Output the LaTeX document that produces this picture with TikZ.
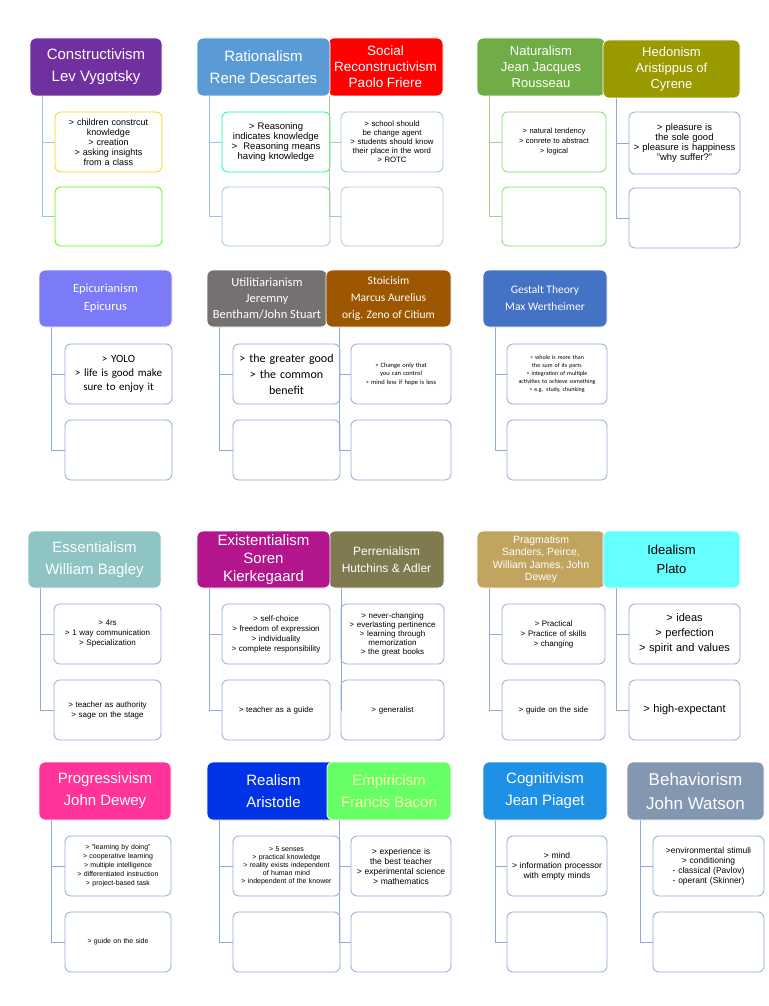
\documentclass[tikz,border=0pt]{standalone}
\usepackage{fontspec}
\setmainfont{Liberation Sans}
\newfontfamily\carl{Carlito}
\begin{document}
\begin{tikzpicture}[x=1pt,y=-1pt,
  hdrst/.style={rounded corners=6pt,draw=white,line width=0.8pt,text=white,align=center,inner sep=1pt},
  bxst/.style={rounded corners=6pt,draw=#1,line width=0.8pt,fill=white,align=center,inner sep=1pt},
  lnst/.style={draw=#1,line width=0.9pt}]
\newcommand\Hdr[8]{\pgfmathsetmacro\ww{#4-#2}\pgfmathsetmacro\hh{#5-#3}%
  \node[hdrst,fill=#6,minimum width=\ww pt,minimum height=\hh pt,font=#8] (#1) at ({(#2+#4)/2},{(#3+#5)/2}) {#7};}
\newcommand\Bx[8]{\pgfmathsetmacro\ww{#4-#2}\pgfmathsetmacro\hh{#5-#3}%
  \node[bxst=#6,minimum width=\ww pt,minimum height=\hh pt,text width=\ww pt-6pt,font={#8\hyphenpenalty=10000\exhyphenpenalty=10000}] (#1) at ({(#2+#4)/2},{(#3+#5)/2}) {#7};}
\newcommand\Cn[6]{\coordinate (#1t) at (#2,#3); \draw[lnst=#6] (#1t) |- (#4.west); \draw[lnst=#6] (#1t) |- (#5.west);}
\newcommand\fs[2]{\fontsize{#1}{#2}\selectfont}
\definecolor{lb}{HTML}{9DC3E6}
\definecolor{ln}{HTML}{8FAADC}
\definecolor{lg}{HTML}{A9D18E}
\definecolor{c1}{HTML}{7030A0}\definecolor{c2}{HTML}{5B9BD5}\definecolor{c3}{HTML}{FF0000}
\definecolor{c4}{HTML}{70AD47}\definecolor{c5}{HTML}{999900}\definecolor{c6}{HTML}{7B7BF7}
\definecolor{c7}{HTML}{767171}\definecolor{c8}{HTML}{9C5700}\definecolor{c9}{HTML}{4472C4}
\definecolor{c10}{HTML}{8EC4C4}\definecolor{c11}{HTML}{B3168C}\definecolor{c12}{HTML}{7F7A50}
\definecolor{c13}{HTML}{C1A45E}\definecolor{c14}{HTML}{66FFFF}\definecolor{c15}{HTML}{FF3399}
\definecolor{c16}{HTML}{0033E6}\definecolor{c17}{HTML}{66FF66}\definecolor{c18}{HTML}{1E90E6}
\definecolor{c19}{HTML}{8497B0}
\useasboundingbox (0,0) rectangle (768,1006);
\fill[white] (0,0) rectangle (768,1006);
% ---------- row1
\Bx{b1a}{55}{112}{162}{172}{yellow!70!orange}{> children constrcut knowledge\\> creation\\> asking insights from a class}{\fs{9}{10}}
\Bx{b1b}{55}{187}{162}{246}{green!60!lime}{}{}
\Bx{b2a}{222}{112}{330}{172}{green!40!cyan}{> Reasoning indicates knowledge\\>\ \ Reasoning means having knowledge}{\fs{9.5}{10}}
\Bx{b2b}{222}{187}{330}{246}{lb}{}{}
\Bx{b3a}{341}{112}{443}{172}{lb}{> school should be change agent\\> students should know their place in the word\\> ROTC}{\fs{7.8}{9}}
\Bx{b3b}{341}{187}{443}{246}{cyan!30!teal!40}{}{}
\Bx{b4a}{502}{112}{606}{172}{lg!80!green}{> natural tendency\\> conrete to abstract\\> logical}{\fs{7.5}{10}}
\Bx{b4b}{502}{187}{606}{246}{lg!80!green}{}{}
\Bx{b5a}{629}{112}{740}{174}{ln}{> pleasure is the sole good\\> pleasure is happiness\\"why suffer?"}{\fs{9.5}{10}}
\Bx{b5b}{629}{188}{740}{248}{ln}{}{}
\Cn{h1}{42}{96}{b1a}{b1b}{lb}
\Cn{h2}{209}{96}{b2a}{b2b}{lb}
\Cn{h3}{329}{96}{b3a}{b3b}{lg}
\Cn{h4}{489}{96}{b4a}{b4b}{lg}
\Cn{h5}{616}{98}{b5a}{b5b}{ln}
\Hdr{h3}{328}{38}{443}{96}{c3}{Social\\Reconstructivism\\Paolo Friere}{\fs{13.5}{16}}
\Hdr{h1}{30}{38}{162}{96}{c1}{Constructivism\\Lev Vygotsky}{\fs{15}{22}}
\Hdr{h2}{197}{38}{330}{96}{c2}{Rationalism\\Rene Descartes}{\fs{15}{22}}
\Hdr{h4}{477}{38}{605}{96}{c4}{Naturalism\\Jean Jacques\\Rousseau}{\fs{13}{16}}
\Hdr{h5}{603}{40}{740}{98}{c5}{Hedonism\\Aristippus of\\Cyrene}{\fs{13}{16}}
% ---------- row2
\Bx{b6a}{65}{344}{172}{404}{ln}{> YOLO\\> life is good make sure to enjoy it}{\carl\fs{11}{14}}
\Bx{b6b}{65}{420}{172}{480}{ln}{}{}
\Bx{b7a}{233}{344}{340}{404}{ln}{> the greater good\\> the common benefit}{\carl\fs{12}{16}}
\Bx{b7b}{233}{420}{340}{480}{ln}{}{}
\Bx{b8a}{351}{344}{451}{404}{ln}{> Change only that you can control\\> mind less if hope is less}{\carl\fs{6.5}{8.5}}
\Bx{b8b}{351}{420}{451}{480}{ln}{}{}
\Bx{b9a}{507}{344}{607}{404}{ln}{> whole is more than the sum of its parts\\> integration of multiple activities to achieve something\\> e.g. study, chunking}{\carl\fs{6}{8}}
\Bx{b9b}{507}{420}{607}{480}{ln}{}{}
\Cn{h6}{51}{327}{b6a}{b6b}{ln}
\Cn{h7}{219}{327}{b7a}{b7b}{ln}
\Cn{h8}{339}{327}{b8a}{b8b}{ln}
\Cn{h9}{495}{327}{b9a}{b9b}{ln}
\Hdr{h6}{39}{270}{172}{327}{c6}{Epicurianism\\Epicurus}{\carl\fs{12.5}{18}}
\Hdr{h7}{207}{270}{327}{327}{c7}{Utilitiarianism\\Jeremny\\Bentham/John Stuart}{\carl\fs{12.5}{16}}
\Hdr{h8}{326}{270}{451}{327}{c8}{Stoicisim\\Marcus Aurelius\\orig. Zeno of Citium}{\carl\fs{11.5}{17}}
\Hdr{h9}{483}{270}{607}{327}{c9}{Gestalt Theory\\Max Wertheimer}{\carl\fs{11.5}{17}}
% ---------- row3
\Bx{b10a}{54}{604}{161}{664}{ln}{> 4rs\\> 1 way communication\\> Specialization}{\fs{8}{10}}
\Bx{b10b}{54}{680}{161}{740}{ln}{> teacher as authority\\> sage on the stage}{\fs{8}{10}}
\Bx{b11a}{222}{604}{330}{664}{ln}{> self-choice\\> freedom of expression\\> individuality\\> complete responsibility}{\fs{8}{10}}
\Bx{b11b}{222}{680}{330}{740}{ln}{> teacher as a guide}{\fs{8}{10}}
\Bx{b12a}{341}{604}{444}{664}{ln}{> never-changing\\> everlasting pertinence\\> learning through memorization\\> the great books}{\fs{8}{9}}
\Bx{b12b}{341}{680}{444}{740}{ln}{> generalist}{\fs{8}{10}}
\Bx{b13a}{502}{604}{605}{664}{ln}{> Practical\\> Practice of skills\\> changing}{\fs{8}{10}}
\Bx{b13b}{502}{680}{605}{740}{ln}{> guide on the side}{\fs{8}{10}}
\Bx{b14a}{629}{604}{740}{664}{ln}{> ideas\\> perfection\\> spirit and values}{\fs{11}{15}}
\Bx{b14b}{629}{680}{740}{740}{ln}{> high-expectant}{\fs{11}{13}}
\Cn{h10}{40}{588}{b10a}{b10b}{ln}
\Cn{h11}{209}{588}{b11a}{b11b}{ln}
\Cn{h12}{341}{588}{b12a}{b12b}{ln}
\Cn{h13}{489}{588}{b13a}{b13b}{ln}
\Cn{h14}{616}{588}{b14a}{b14b}{ln}
\Hdr{h12}{329}{531}{444}{588}{c12}{Perrenialism\\Hutchins \& Adler}{\fs{12}{17}}
\Hdr{h10}{28}{531}{161}{588}{c10}{Essentialism\\William Bagley}{\fs{15}{22}}
\Hdr{h11}{197}{531}{330}{588}{c11}{Existentialism\\Soren\\Kierkegaard}{\fs{15}{18}}
\Hdr{h13}{477}{531}{605}{588}{c13}{Pragmatism\\Sanders, Peirce,\\William James, John\\Dewey}{\fs{10.5}{12.5}}
\Hdr{h14}{603}{531}{740}{588}{c14}{\color{black}Idealism\\\color{black}Plato}{\fs{13}{19}}
% ---------- row4
\Bx{b15a}{65}{836}{171}{896}{ln}{> "learning by doing"\\> cooperative learning\\> multiple intelligence\\> differentiated instruction\\> project-based task}{\fs{7}{9}}
\Bx{b15b}{65}{912}{171}{972}{ln}{> guide on the side}{\fs{7}{9}}
\Bx{b16a}{233}{836}{340}{896}{ln}{> 5 senses\\> practical knowledge\\> reality exists independent of human mind\\> independent of the knower}{\fs{7}{8}}
\Bx{b16b}{233}{912}{340}{972}{ln}{}{}
\Bx{b17a}{351}{836}{451}{896}{ln}{> experience is the best teacher\\> experimental science\\> mathematics}{\fs{8.5}{10}}
\Bx{b17b}{351}{912}{451}{972}{ln}{}{}
\Bx{b18a}{507}{836}{607}{896}{ln}{> mind\\> information processor\\with empty minds}{\fs{8.5}{10}}
\Bx{b18b}{507}{912}{607}{972}{ln}{}{}
\Bx{b19a}{653}{836}{764}{896}{ln}{>environmental stimuli\\> conditioning\\- classical (Pavlov)\\- operant (Skinner)}{\fs{8.5}{10}}
\Bx{b19b}{653}{912}{764}{972}{ln}{}{}
\Cn{h15}{51}{820}{b15a}{b15b}{ln}
\Cn{h16}{219}{820}{b16a}{b16b}{ln}
\Cn{h17}{339}{820}{b17a}{b17b}{ln}
\Cn{h18}{495}{820}{b18a}{b18b}{ln}
\Cn{h19}{640}{820}{b19a}{b19b}{ln}
\Hdr{h15}{39}{762}{171}{820}{c15}{Progressivism\\John Dewey}{\fs{15}{22}}
\Hdr{h16}{207}{762}{340}{820}{c16}{Realism\\Aristotle}{\fs{15}{22}}
\Hdr{h17}{327}{762}{451}{820}{c17}{\color{yellow!30}Empiricism\\\color{yellow!30}Francis Bacon}{\fs{15}{22}}
\Hdr{h18}{483}{762}{607}{820}{c18}{Cognitivism\\Jean Piaget}{\fs{15}{22}}
\Hdr{h19}{627}{762}{764}{820}{c19}{Behaviorism\\John Watson}{\fs{17}{24}}
\end{tikzpicture}
\end{document}
